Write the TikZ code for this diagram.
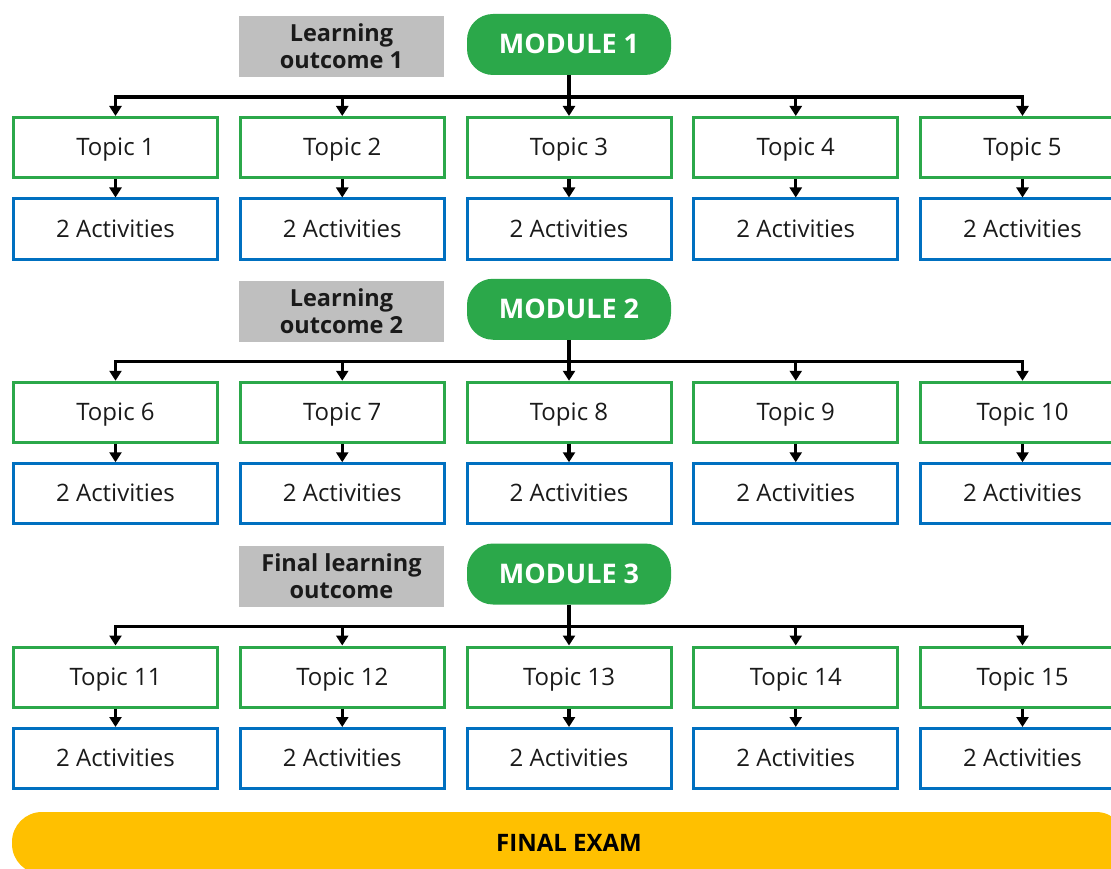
\documentclass[tikz,border=0pt]{standalone}
\usepackage{fontspec}
\setmainfont{Open Sans}
\usetikzlibrary{arrows.meta}
\definecolor{tgreen}{HTML}{2BA84A}
\definecolor{tblue}{HTML}{0070C0}
\definecolor{tgray}{HTML}{BFBFBF}
\definecolor{tyellow}{HTML}{FFC000}
\definecolor{ttext}{HTML}{1A1A1A}
\begin{document}
\begin{tikzpicture}[x=1pt,y=-1pt,
  topicbox/.style={draw=tgreen,line width=3pt,minimum width=204pt,minimum height=60pt,inner sep=0pt,text height=17pt,text depth=1pt,font=\fontsize{24}{28}\selectfont,text=ttext},
  actbox/.style={draw=tblue,line width=3pt,minimum width=204pt,minimum height=60pt,inner sep=0pt,text height=17pt,text depth=1pt,font=\fontsize{24}{28}\selectfont,text=ttext},
  modbox/.style={fill=tgreen,rounded corners=26pt,minimum width=204pt,minimum height=61pt,inner sep=0pt,text height=19pt,text depth=0pt,text=white,font=\bfseries\fontsize{27}{32}\selectfont},
  outbox/.style={fill=tgray,minimum width=205pt,minimum height=61pt,inner sep=0pt,align=center,text=ttext,font=\bfseries\fontsize{23.5}{27}\selectfont},
  exambox/.style={fill=tyellow,rounded corners=30pt,minimum width=1114pt,minimum height=62pt,inner sep=0pt,text height=17pt,text depth=0pt,text=black,font=\bfseries\fontsize{24}{28}\selectfont},
  conn/.style={line width=3.2pt,-{Triangle[width=12pt,length=10pt]}},
]
\useasboundingbox (0,0) rectangle (1111,869);
\clip (0,0) rectangle (1111,869);
\foreach \r/\lo in {0/{Learning\\outcome 1},1/{Learning\\outcome 2},2/{Final learning\\outcome}}{
  \pgfmathsetmacro\dy{264.75*\r}
  \pgfmathtruncatemacro\mn{\r+1}
  \node[outbox] (lo\r) at (341.5,46.5+\dy) {\lo};
  \node[modbox] (m\r) at (569,44.5+\dy) {MODULE \mn};
  \coordinate (j\r) at (569,97+\dy);
  \foreach \c in {1,...,5}{
    \pgfmathtruncatemacro\tn{5*\r+\c}
    \node[topicbox] (t\r\c) at (115.5+226.75*\c-226.75,147.5+\dy) {Topic \tn};
    \node[actbox] (a\r\c) at (115.5+226.75*\c-226.75,229+\dy) {2 Activities};
    \draw[conn] (t\r\c.south) -- (a\r\c.north);
  }
  \draw[conn] (m\r.south) -- (t\r3.north);
  \foreach \c in {1,2,4,5}{
    \draw[conn] (j\r) -| (t\r\c.north);
  }
}
\node[exambox] (fe) at (569,843) {FINAL EXAM};
\end{tikzpicture}
\end{document}
